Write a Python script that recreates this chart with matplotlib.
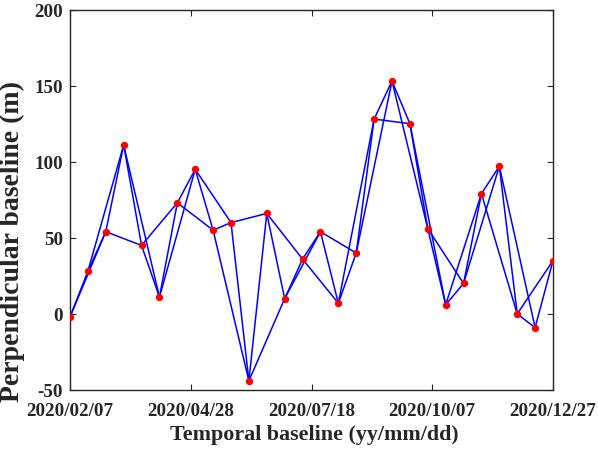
import matplotlib
matplotlib.use("Agg")
import matplotlib.pyplot as plt
import matplotlib.dates as mdates
import datetime as dt

start_date = "2020-02-07"
interval_days = 12
bperp = [-2, 28, 54, 111, 45, 11, 73, 95, 55, 60, -44, 66, 10, 36, 54, 7, 40,
         128, 153, 125, 56, 6, 20, 79, 97, 0, -9, 35]
tick_dates = ["2020-02-07", "2020-04-28", "2020-07-18", "2020-10-07", "2020-12-27"]
y_ticks = [-50, 0, 50, 100, 150, 200]
max_link = 2

t0 = dt.datetime.strptime(start_date, "%Y-%m-%d")
dates = [t0 + dt.timedelta(days=interval_days * i) for i in range(len(bperp))]
xd = mdates.date2num(dates)

plt.rcParams['font.family'] = ['Liberation Serif', 'DejaVu Serif']
plt.rcParams['font.weight'] = 'bold'
plt.rcParams['axes.unicode_minus'] = False

fig = plt.figure(figsize=(5.98, 4.52), dpi=100)
ax = fig.add_axes([70/598, 1-391/452, (553-70)/598, (391-10.5)/452])

n = len(bperp)
for i in range(n):
    for k in range(1, max_link + 1):
        j = i + k
        if j < n:
            ax.plot([xd[i], xd[j]], [bperp[i], bperp[j]], color='#0000ff', lw=1.1, zorder=2)
ax.plot(xd, bperp, 'o', color='red', ms=4.3, mec='red', zorder=3, lw=0)

ticks = mdates.date2num([dt.datetime.strptime(s, "%Y-%m-%d") for s in tick_dates])
ax.set_xticks(ticks)
ax.xaxis.set_major_formatter(mdates.DateFormatter("%Y/%m/%d"))
ax.set_xlim(ticks[0], ticks[-1])
ax.set_ylim(y_ticks[0], y_ticks[-1])
ax.set_yticks(y_ticks)

for s in ax.spines.values():
    s.set_color('#262626')
    s.set_linewidth(1.0)
ax.tick_params(direction='in', top=True, right=True, length=4, width=0.8,
               colors='#262626', labelsize=13.7)
ax.tick_params(axis='x', pad=9)
ax.tick_params(axis='y', pad=5)
for lab in ax.get_xticklabels() + ax.get_yticklabels():
    lab.set_fontweight('bold')
    lab.set_color('#262626')

ax.set_xlabel("Temporal baseline (yy/mm/dd)", fontsize=15.8, fontweight='bold', color='#262626')
ax.xaxis.set_label_coords(0.506, -0.089)
ax.set_ylabel("Perpendicular baseline (m)", fontsize=20, fontweight='bold', color='#262626')
ax.yaxis.set_label_coords(-0.093, 0.392)

fig.savefig("out.png", dpi=100)
